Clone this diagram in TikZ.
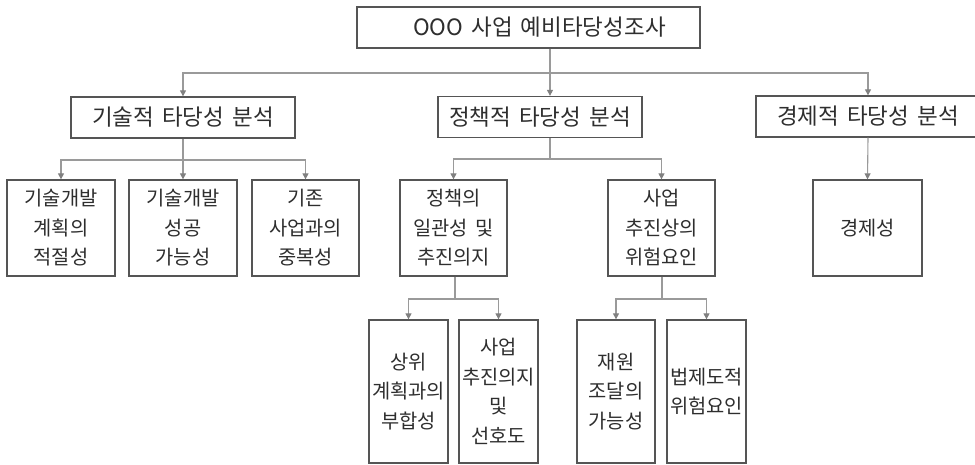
\documentclass[tikz,border=0pt]{standalone}
\usepackage{fontspec}
\setmainfont[WordSpace=1.6]{Noto Sans CJK KR}
\usetikzlibrary{arrows.meta}
\definecolor{boxline}{HTML}{555555}
\definecolor{conline}{HTML}{9A9A9A}
\definecolor{tipcol}{HTML}{808080}
\definecolor{txt}{HTML}{2E2E2E}
\tikzset{
  box/.style={draw=boxline, line width=1.3pt, inner sep=0pt, text=txt, align=center, anchor=center},
  headbox/.style={box, font=\fontsize{22.5}{26}\selectfont},
  leafbox/.style={box, font=\fontsize{19.8}{29.5}\selectfont},
  conn/.style={draw=conline, line width=1.1pt},
  arr/.style={conn, -{Triangle[length=6pt,width=6pt,fill=tipcol,color=tipcol]}},
}
\begin{document}
\begin{tikzpicture}[x=1pt,y=-1pt]
\useasboundingbox (0,0) rectangle (975,464);
\clip (0,0) rectangle (975,464);
% headers
\node[headbox, minimum width=343pt, minimum height=41pt] (title) at (528.5,27.5) {\hspace*{22pt}OOO 사업 예비타당성조사};
\node[headbox, minimum width=224pt, minimum height=41pt] (tech) at (183,117.5) {기술적 타당성 분석};
\node[headbox, minimum width=204pt, minimum height=41pt] (pol) at (540,117) {정책적 타당성 분석};
\node[headbox, minimum width=224pt, minimum height=41pt] (econ) at (868,116.5) {경제적 타당성 분석};
% level 3
\node[leafbox, minimum width=108pt, minimum height=96pt] (a1) at (61,228) {기술개발\\계획의\\적절성};
\node[leafbox, minimum width=108pt, minimum height=96pt] (a2) at (183,228) {기술개발\\성공\\가능성};
\node[leafbox, minimum width=107pt, minimum height=96pt] (a3) at (305.5,228) {기존\\사업과의\\중복성};
\node[leafbox, minimum width=107pt, minimum height=96pt] (b1) at (453.5,228) {정책의\\일관성 및\\추진의지};
\node[leafbox, minimum width=107pt, minimum height=96pt] (b2) at (661.5,228) {사업\\추진상의\\위험요인};
\node[leafbox, minimum width=109pt, minimum height=96pt] (c1) at (867.5,228) {경제성};
% level 4
\node[leafbox, minimum width=79pt, minimum height=143pt] (d1) at (408.5,391.5) {상위\\계획과의\\부합성};
\node[leafbox, minimum width=79pt, minimum height=143pt] (d2) at (498.5,391.5) {사업\\추진의지\\및\\선호도};
\node[leafbox, minimum width=78pt, minimum height=143pt] (d3) at (616,391.5) {재원\\조달의\\가능성};
\node[leafbox, minimum width=79pt, minimum height=143pt] (d4) at (706.5,391.5) {법제도적\\위험요인};
% connectors: level 1 -> 2
\coordinate (j0) at (550,73);
\draw[arr] (title.south -| j0) -- (pol.north -| j0);
\draw[arr] (j0) -| (tech.north);
\draw[arr] (j0) -| (econ.north);
% tech -> level 3
\coordinate (j1) at (183,160);
\draw[conn] (tech.south) -- (j1);
\draw[arr] (j1) -| (a1.north);
\draw[arr] (j1) -- (a2.north);
\draw[arr] (j1) -| (a3.north);
% pol -> level 3
\coordinate (j2) at (550,159);
\draw[conn] (pol.south -| j2) -- (j2);
\draw[arr] (j2) -| (b1.north);
\draw[arr] (j2) -| (b2.north);
% econ -> level 3
\draw[arr] (econ.south) -- (c1.north);
% b1 -> level 4
\coordinate (j3) at (455,299);
\draw[conn] (b1.south -| j3) -- (j3);
\draw[arr] (j3) -| (d1.north);
\draw[arr] (j3) -| (d2.north);
% b2 -> level 4
\coordinate (j4) at (662,299);
\draw[conn] (b2.south -| j4) -- (j4);
\draw[arr] (j4) -| (d3.north);
\draw[arr] (j4) -| (d4.north);
\end{tikzpicture}
\end{document}
